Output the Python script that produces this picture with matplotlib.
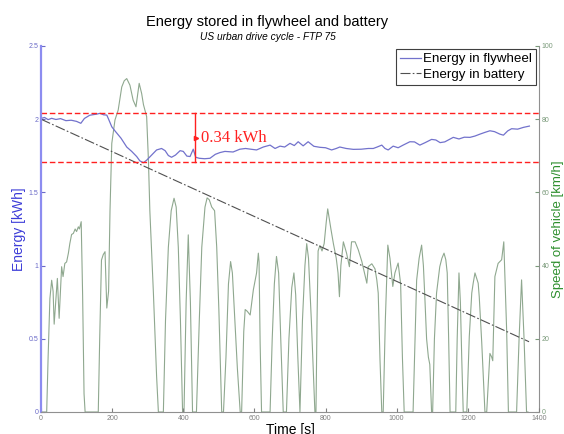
import matplotlib
matplotlib.use("Agg")
import matplotlib.pyplot as plt
import numpy as np

plt.rcParams['font.family'] = ['Liberation Sans', 'DejaVu Sans']

# Vehicle speed over the FTP-75 urban cycle (time in s, speed in km/h)
speed_t = [0, 16, 20, 25, 30, 34, 37, 42, 46, 51, 58, 62, 67, 72, 77, 81, 86, 91, 96, 100,
           105, 108, 113, 117, 121, 124, 161, 165, 170, 175, 180, 185, 190, 194, 199, 208,
           217, 227, 234, 241, 250, 259, 267, 276, 283, 288, 297, 302, 306, 316, 325, 330,
           344, 350, 358, 366, 374, 380, 386, 392, 398, 402, 408, 414, 420, 426,
           437, 445, 452, 461, 467, 473, 480, 488, 494, 500, 508,
           513, 520, 527, 533, 538, 545, 552, 560,
           564, 570, 574, 580, 588, 597, 606, 611, 613, 616, 620,
           644, 650, 656, 662, 668, 674, 681,
           690, 697, 705, 711, 716, 722, 728,
           735, 742, 747, 752, 760, 770,
           773, 776, 779, 784, 790, 796, 802, 806, 810, 815, 822, 830, 835, 839, 843, 850,
           859, 867, 873, 883, 892, 902, 916, 920, 930, 939, 944, 948, 953, 958,
           962, 968, 975, 981, 989, 995, 1004, 1011, 1016, 1021,
           1046, 1051, 1056, 1063, 1070, 1075, 1079, 1084, 1089, 1093, 1098,
           1101, 1106, 1112, 1121, 1127, 1133, 1138, 1142, 1146, 1150,
           1166, 1170, 1175, 1179, 1183, 1187,
           1197, 1204, 1211, 1215, 1220, 1229, 1232, 1239, 1248,
           1253, 1262, 1267, 1270, 1273, 1276, 1285, 1295, 1301, 1309, 1314,
           1337, 1344, 1351, 1358, 1365, 1369]
speed_v = [0, 0, 15, 31, 36, 33, 24, 31, 36.5, 25.6, 39.7, 37, 40.6, 41, 43.4, 46, 48.5, 48.8, 50, 49.3,
           50.6, 50, 52, 32, 5, 0, 0, 20, 41.5, 43, 43.8, 28.4, 33, 55, 73.4, 79.8,
           82.5, 88.8, 90.5, 91.1, 89.3, 85.2, 83.4, 89.8, 87, 84, 80.7, 68.8, 55, 32.5, 9.7, 0,
           0, 25, 45, 55, 58.4, 56, 45, 25, 0, 0, 30, 48.4, 30, 0,
           0, 25, 45, 56, 58.5, 58, 56, 55, 45, 28, 0,
           0, 15, 35, 41.1, 38, 25, 12, 0,
           0, 22, 28, 27.5, 26.5, 33.4, 38, 43.4, 41, 19, 0,
           0, 20, 35, 42.5, 38, 20, 0,
           0, 20, 34, 38, 32, 15, 0,
           25, 40, 46, 42, 25, 0,
           0, 25, 44, 45.5, 44, 46, 52, 55.5, 53, 50, 46, 42, 38, 31.5, 40, 46.5,
           43.4, 39.7, 46.5, 46.5, 44.3, 41.1, 35.2, 39.7, 40.5, 39.1, 36.1, 32.5, 14.3, 0,
           0, 25, 45.6, 42, 34.3, 38, 40.7, 35, 15, 0,
           0, 18, 36, 42, 45.6, 40, 31.5, 20, 15, 13, 0,
           0, 20, 32.5, 39.7, 42, 43.4, 41.6, 38, 20, 0,
           0, 20, 38, 30, 14, 0,
           0, 20.6, 32.5, 35.2, 38, 35.2, 31.5, 19, 0,
           0, 16, 15, 14, 25, 37, 40.6, 41.6, 46.5, 22.5, 0,
           0, 20, 36.1, 20, 0, 0]

# Energy stored in the flywheel (kWh)
fly_t = [0, 10, 20, 30, 42, 55, 70, 85, 100, 112, 122, 137, 157, 166, 176, 185, 190, 199, 208,
         225, 241, 255, 269, 278, 288, 297, 311, 325, 339, 349, 358, 367, 378, 391, 400, 410,
         419, 428, 435, 445, 460, 475, 490, 503, 517, 540, 559, 575, 590, 606, 625, 644, 658,
         672, 685, 700, 712, 723, 737, 751, 767, 784, 800, 817, 830, 840, 858, 878, 900, 920,
         934, 945, 958, 967, 976, 990, 1004, 1018, 1037, 1050, 1065, 1080, 1098, 1110, 1122,
         1135, 1159, 1175, 1190, 1206, 1220, 1234, 1248, 1262, 1275, 1290, 1300, 1312, 1323,
         1340, 1356, 1373]
fly_e = [2.005, 2.012, 1.997, 2.006, 1.998, 2.004, 1.99, 1.993, 1.985, 1.972, 2.005, 2.027,
         2.035, 2.04, 2.03, 2.028, 2.0, 1.948, 1.92, 1.87, 1.81, 1.78, 1.745, 1.715, 1.703,
         1.72, 1.755, 1.79, 1.80, 1.785, 1.752, 1.74, 1.755, 1.785, 1.78, 1.748, 1.745, 1.795,
         1.74, 1.733, 1.73, 1.733, 1.76, 1.772, 1.78, 1.776, 1.795, 1.80, 1.795, 1.79, 1.81,
         1.823, 1.80, 1.816, 1.81, 1.835, 1.82, 1.846, 1.818, 1.846, 1.815, 1.808, 1.805, 1.79,
         1.80, 1.81, 1.80, 1.794, 1.795, 1.80, 1.80, 1.81, 1.823, 1.80, 1.79, 1.816, 1.805,
         1.823, 1.846, 1.845, 1.823, 1.84, 1.862, 1.858, 1.84, 1.845, 1.876, 1.865, 1.877,
         1.876, 1.885, 1.898, 1.91, 1.921, 1.915, 1.898, 1.891, 1.92, 1.935, 1.932, 1.944,
         1.953]

# Energy in the battery (kWh), linear discharge
bat_t = [0, 1372]
bat_e = [2.0, 0.48]

# Flywheel energy band
band_hi = 2.045
band_lo = 1.705
band_t = 433
band_label = "0.34 kWh"

fig = plt.figure(figsize=(5.64, 4.34), dpi=100)
ax = fig.add_axes([41/564, 22/434, 498/564, 366/434])
ax2 = ax.twinx()

ax2.plot(speed_t, speed_v, color='#8fa88f', lw=0.8, zorder=1)
ax2.set_ylim(0, 100)

ax.set_zorder(ax2.get_zorder() + 1)
ax.patch.set_visible(False)

l1, = ax.plot(fly_t, fly_e, color='#7272cc', lw=0.9, label='Energy in flywheel')
l2, = ax.plot(bat_t, bat_e, color='#505050', lw=0.8, ls='-.', dashes=(9, 2, 1.5, 2),
              label='Energy in battery')

ax.axhline(band_hi, color='#ff2020', ls='--', lw=1.0, dashes=(4, 2))
ax.axhline(band_lo, color='#ff2020', ls='--', lw=1.0, dashes=(4, 2))
ax.plot([band_t, band_t], [band_lo, band_hi], color='#ff2020', lw=1.0)
ax.plot([band_t + 4], [(band_hi + band_lo) / 2], marker='>', color='#ff2020', ms=3)
ax.text(band_t + 18, (band_hi + band_lo) / 2, band_label, color='#ff2020',
        family=['Liberation Serif', 'DejaVu Serif'], fontsize=12, va='center', ha='left')

ax.set_xlim(0, 1400)
ax.set_ylim(0, 2.5)
ax.set_xticks(np.arange(0, 1401, 200))
ax.set_yticks([0, 0.5, 1, 1.5, 2, 2.5])
ax.set_yticklabels(['0', '0.5', '1', '1.5', '2', '2.5'])
ax2.set_yticks([0, 20, 40, 60, 80, 100])

ax.tick_params(axis='x', direction='in', length=3, labelsize=5, colors='#808080', pad=2)
ax.tick_params(axis='y', direction='in', length=3, labelsize=5, colors='#6a6ac8', pad=2)
ax2.tick_params(axis='y', direction='in', length=3, labelsize=5, colors='#7a9a7a', pad=2)

for a in (ax, ax2):
    a.spines['top'].set_visible(False)
ax.spines['left'].set_color('#8c8cf0')
ax.spines['left'].set_linewidth(1.6)
ax.spines['bottom'].set_color('#909090')
ax2.spines['left'].set_visible(False)
ax2.spines['bottom'].set_visible(False)
ax2.spines['right'].set_color('#909090')
ax.spines['right'].set_visible(False)

ax.set_ylabel('Energy [kWh]', color='#3c3cd8', fontsize=10)
ax.yaxis.set_label_coords(-0.03, 0.5)
ax2.set_ylabel('Speed of vehicle [km/h]', color='#2e8f2e', fontsize=9.5)
ax2.yaxis.set_label_coords(1.026, 0.5)
ax.set_xlabel('Time [s]', fontsize=10)
ax.xaxis.set_label_coords(0.5, -0.03)

leg = ax.legend(handles=[l1, l2], loc='upper right', fontsize=9.6, frameon=True,
                fancybox=False, edgecolor='#404040', framealpha=1, borderpad=0.3,
                labelspacing=0.25, handlelength=1.6, handletextpad=0.15,
                borderaxespad=0.0, bbox_to_anchor=(0.994, 0.992))
leg.get_frame().set_linewidth(0.8)

fig.text(267.5/564, 1 - 22/434, 'Energy stored in flywheel and battery', ha='center',
         va='center', fontsize=10.5)
fig.text(267.5/564, 1 - 37.5/434, 'US urban drive cycle - FTP 75', ha='center',
         va='center', fontsize=7.3, style='italic')

fig.savefig('out.png', dpi=100)
